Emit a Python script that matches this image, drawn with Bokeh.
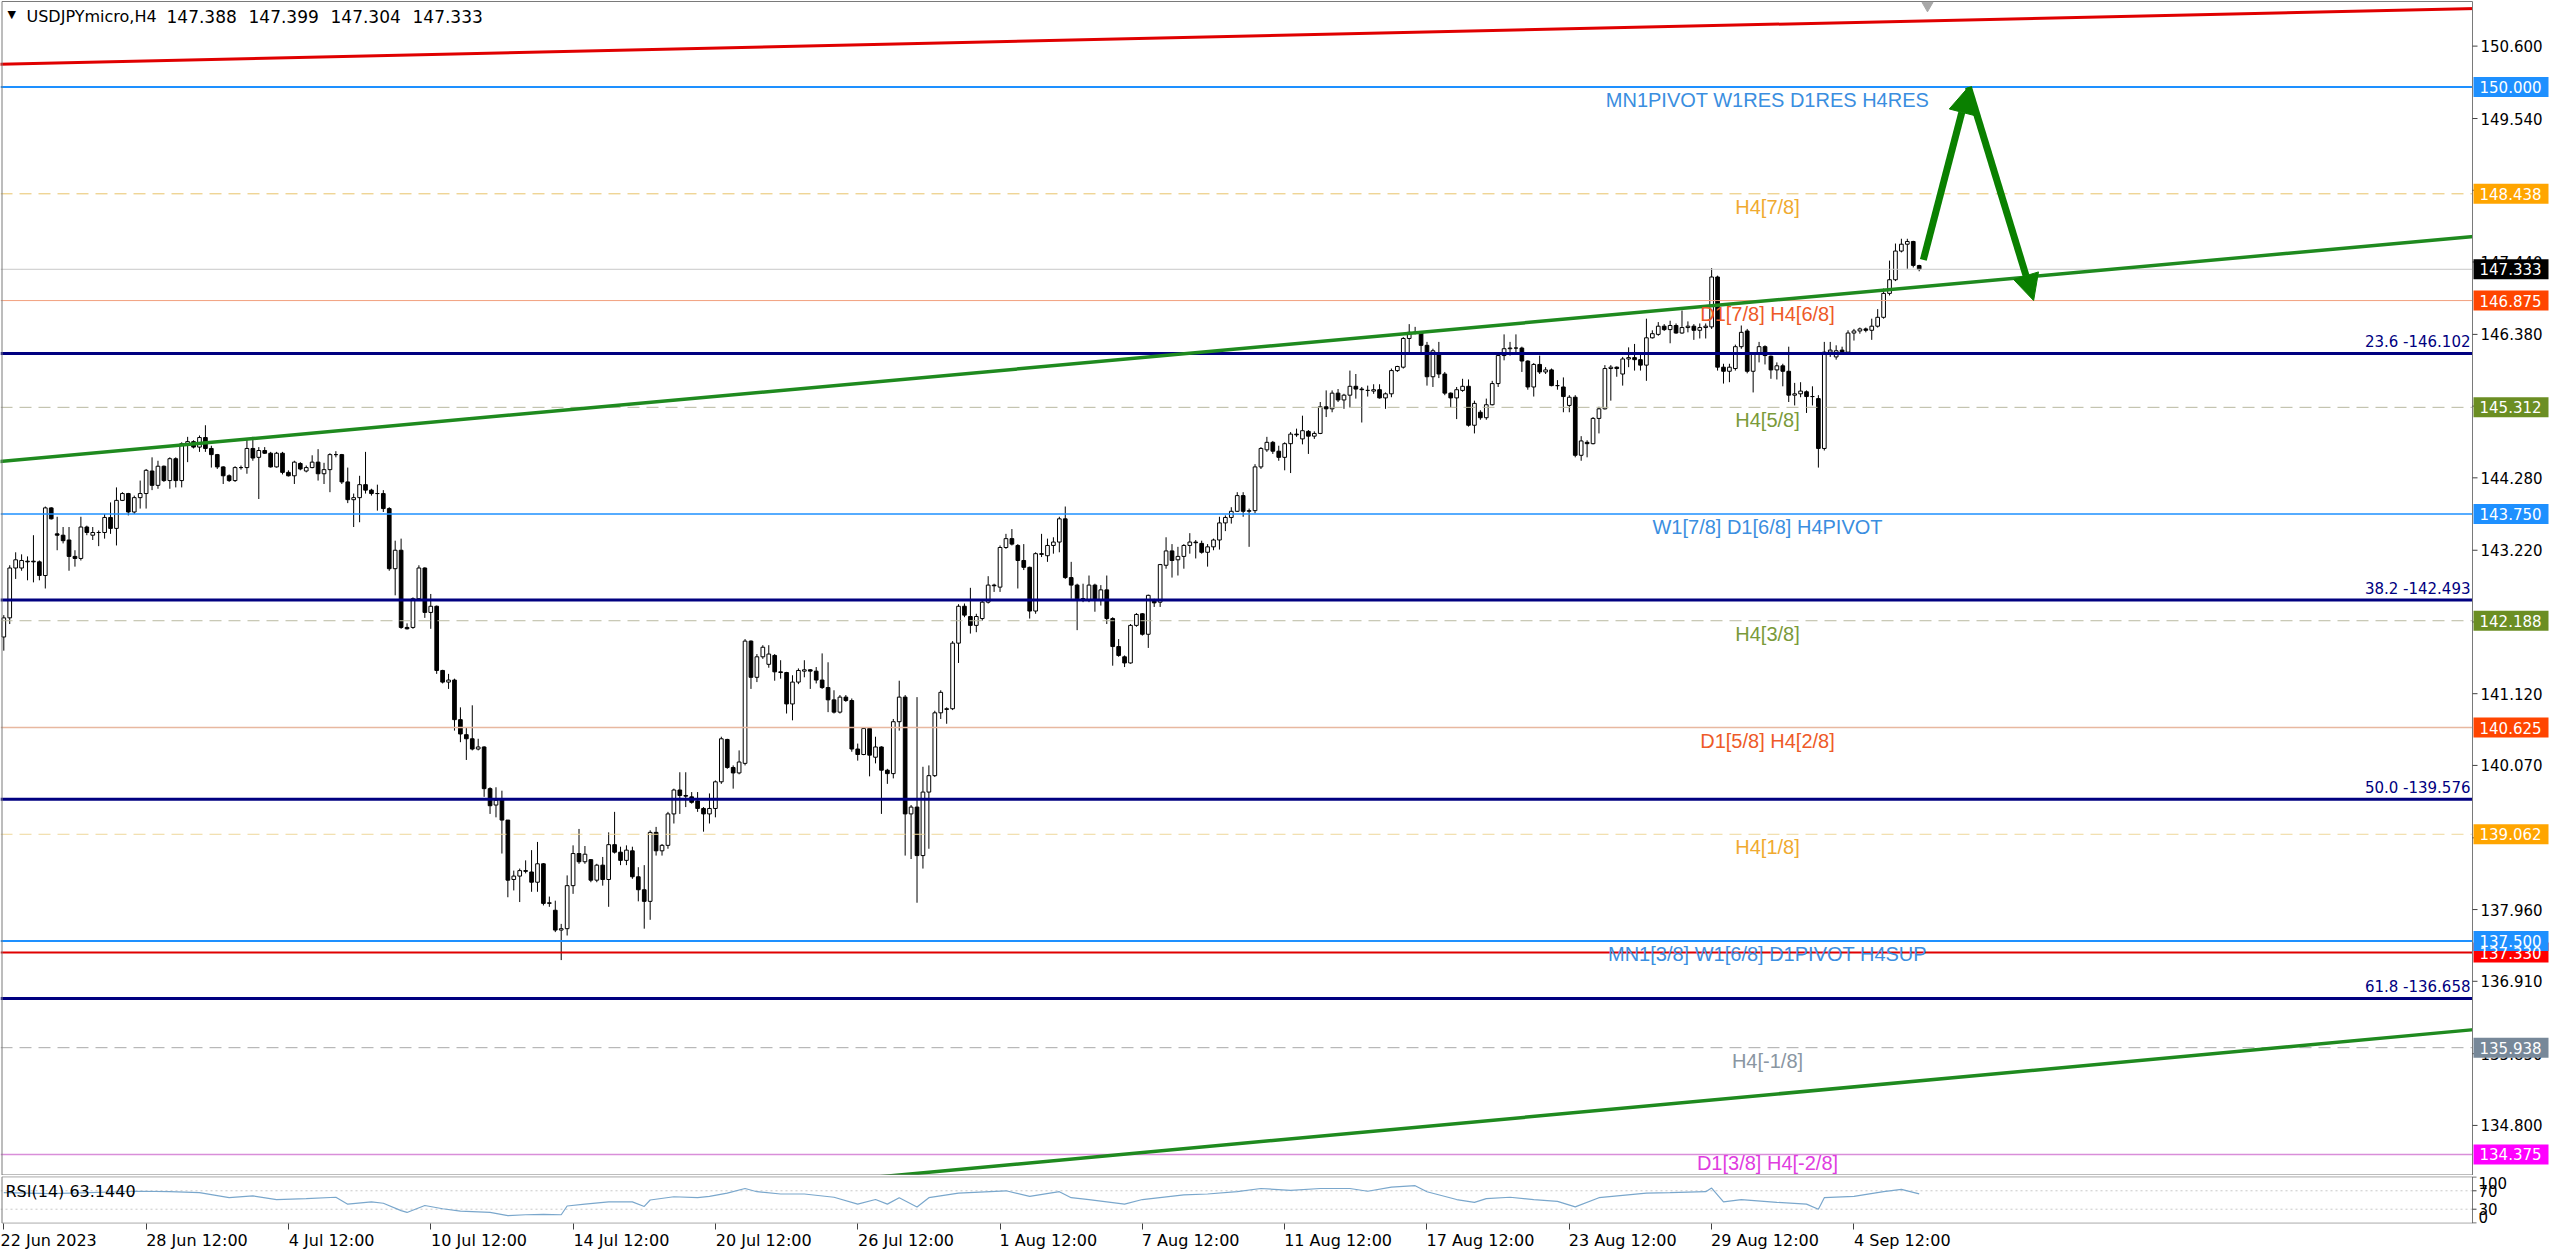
from bokeh.plotting import figure
from bokeh.models import (Range1d, FixedTicker, Label, Arrow, NormalHead)
from bokeh.core.properties import value
from bokeh.layouts import column
from bokeh.embed import file_html
from bokeh.resources import INLINE

# ---------------- data (USDJPYmicro, H4) ----------------
open_ = [
    141.95, 142.23, 142.96, 142.96, 143.06, 143.06, 143.05, 142.85, 143.84, 143.46,
    143.44, 143.37, 143.13, 143.10, 143.56, 143.44, 143.48, 143.48, 143.70, 143.54,
    143.95, 144.05, 143.78, 143.99, 144.05, 144.38, 144.17, 144.45, 144.24, 144.56,
    144.24, 144.78, 144.81, 144.73, 144.87, 144.71, 144.62, 144.44, 144.31, 144.24,
    144.43, 144.43, 144.71, 144.58, 144.68, 144.64, 144.44, 144.64, 144.36, 144.31,
    144.49, 144.38, 144.43, 144.51, 144.34, 144.40, 144.62, 144.62, 144.22, 143.96,
    143.99, 144.18, 144.10, 144.05, 144.05, 143.83, 142.95, 143.22, 142.09, 142.09,
    142.51, 142.96, 142.31, 142.40, 141.46, 141.29, 141.32, 140.74, 140.52, 140.46,
    140.31, 140.34, 139.73, 139.49, 139.57, 139.27, 138.40, 138.45, 138.53, 138.51,
    138.36, 138.63, 138.05, 137.95, 137.66, 137.68, 138.31, 138.78, 138.66, 138.69,
    138.39, 138.61, 138.40, 138.91, 138.80, 138.68, 138.82, 138.44, 138.25, 138.08,
    139.09, 138.82, 138.90, 139.36, 139.71, 139.63, 139.61, 139.55, 139.44, 139.36,
    139.44, 139.83, 140.45, 140.04, 139.96, 140.10, 141.89, 141.36, 141.66, 141.55,
    141.68, 141.44, 141.43, 140.97, 141.29, 141.45, 141.47, 141.45, 141.32, 141.21,
    141.03, 140.85, 141.07, 141.02, 140.31, 140.23, 140.61, 140.19, 140.34, 140.00,
    139.95, 140.71, 141.07, 139.36, 139.46, 138.75, 139.68, 139.92, 140.84, 140.89,
    140.90, 141.86, 142.40, 142.25, 142.12, 142.22, 142.46, 142.71, 142.68, 143.26,
    143.39, 143.29, 143.07, 142.97, 142.33, 143.17, 143.14, 143.29, 143.34, 143.68,
    142.82, 142.71, 142.51, 142.49, 142.71, 142.49, 142.64, 142.22, 141.81, 141.66,
    141.57, 142.12, 142.29, 141.99, 142.49, 142.46, 143.00, 143.21, 143.08, 143.13,
    143.29, 143.34, 143.32, 143.19, 143.27, 143.37, 143.62, 143.70, 143.79, 144.02,
    143.79, 143.80, 144.44, 144.69, 144.80, 144.67, 144.58, 144.78, 144.92, 144.85,
    144.96, 144.89, 144.93, 145.32, 145.29, 145.52, 145.42, 145.49, 145.62, 145.58,
    145.56, 145.55, 145.57, 145.45, 145.51, 145.85, 145.90, 146.32, 146.41, 146.40,
    146.22, 145.76, 146.10, 145.80, 145.52, 145.45, 145.56, 145.62, 145.05, 145.24,
    145.16, 145.35, 145.66, 146.07, 146.17, 146.18, 146.18, 145.99, 145.61, 145.94,
    145.83, 145.86, 145.63, 145.61, 145.34, 145.46, 144.61, 144.80, 144.78, 145.15,
    145.29, 145.88, 145.90, 145.80, 146.02, 146.04, 146.01, 145.93, 146.33, 146.38,
    146.50, 146.45, 146.51, 146.40, 146.48, 146.50, 146.44, 146.48, 146.49, 147.22,
    145.90, 145.84, 145.88, 146.20, 146.43, 145.84, 146.09, 146.20, 146.06, 145.86,
    145.92, 145.84, 145.49, 145.51, 145.54, 145.47, 145.44, 144.71, 146.12, 146.05,
    146.15, 146.12, 146.40, 146.43, 146.46, 146.44, 146.50, 146.63, 146.98, 147.18,
    147.60, 147.70, 147.74, 147.388,
]
high = [
    142.27, 143.00, 143.19, 143.16, 143.13, 143.44, 143.07, 143.86, 143.85, 143.71,
    143.56, 143.56, 143.22, 143.71, 143.58, 143.56, 143.51, 143.75, 143.92, 144.14,
    144.07, 144.06, 144.02, 144.24, 144.41, 144.58, 144.53, 144.46, 144.58, 144.58,
    144.80, 144.88, 144.83, 144.90, 145.05, 144.75, 144.63, 144.45, 144.33, 144.45,
    144.46, 144.85, 144.88, 144.73, 144.73, 144.66, 144.66, 144.66, 144.39, 144.53,
    144.51, 144.46, 144.61, 144.70, 144.50, 144.64, 144.67, 144.63, 144.43, 144.05,
    144.31, 144.66, 144.12, 144.18, 144.10, 143.85, 143.36, 143.39, 142.15, 142.53,
    143.00, 142.97, 142.58, 142.41, 141.47, 141.41, 141.34, 140.92, 140.62, 140.95,
    140.46, 140.35, 139.75, 139.75, 139.70, 139.27, 138.53, 138.56, 138.68, 138.83,
    138.95, 138.64, 138.15, 138.09, 137.75, 138.46, 138.90, 139.14, 138.89, 138.70,
    138.63, 138.73, 139.09, 139.39, 138.88, 138.90, 138.88, 138.58, 138.61, 139.12,
    139.17, 138.92, 139.39, 139.73, 139.97, 139.97, 139.68, 139.68, 139.46, 139.66,
    139.85, 140.49, 140.46, 140.07, 140.29, 141.92, 141.90, 141.70, 141.83, 141.83,
    141.70, 141.61, 141.44, 141.39, 141.49, 141.61, 141.48, 141.51, 141.71, 141.58,
    141.17, 141.10, 141.10, 141.05, 140.39, 140.63, 140.63, 140.49, 140.35, 140.02,
    140.75, 141.31, 141.10, 139.49, 141.07, 140.05, 140.07, 140.87, 141.17, 140.92,
    141.89, 142.43, 142.44, 142.67, 142.29, 142.49, 142.84, 142.73, 143.29, 143.46,
    143.53, 143.31, 143.31, 142.98, 143.19, 143.46, 143.39, 143.41, 143.71, 143.86,
    143.05, 142.73, 142.73, 142.85, 142.73, 142.71, 142.85, 142.24, 141.92, 141.68,
    142.14, 142.30, 142.30, 142.57, 142.51, 143.02, 143.41, 143.31, 143.27, 143.31,
    143.47, 143.37, 143.36, 143.31, 143.39, 143.71, 143.73, 143.85, 144.07, 144.07,
    143.83, 144.48, 144.73, 144.88, 144.82, 144.75, 144.80, 144.95, 145.00, 145.19,
    144.98, 144.96, 145.39, 145.56, 145.56, 145.58, 145.51, 145.85, 145.80, 145.61,
    145.63, 145.65, 145.65, 145.53, 145.88, 145.92, 146.34, 146.53, 146.49, 146.43,
    146.27, 146.17, 146.27, 145.83, 145.53, 145.61, 145.73, 145.72, 145.41, 145.27,
    145.44, 145.70, 146.10, 146.38, 146.27, 146.38, 146.20, 146.00, 145.96, 146.07,
    145.90, 145.88, 145.71, 145.75, 145.49, 145.49, 144.89, 144.83, 145.17, 145.32,
    145.93, 145.93, 145.91, 146.05, 146.19, 146.24, 146.12, 146.61, 146.44, 146.56,
    146.53, 146.58, 146.54, 146.73, 146.57, 146.53, 146.54, 146.54, 147.35, 147.24,
    145.95, 145.95, 146.23, 146.51, 146.46, 146.12, 146.27, 146.22, 146.07, 145.97,
    145.95, 146.20, 145.67, 145.68, 145.56, 145.62, 145.49, 146.27, 146.27, 146.22,
    146.20, 146.44, 146.46, 146.48, 146.48, 146.61, 146.75, 147.05, 147.46, 147.71,
    147.78, 147.78, 147.75, 147.399,
]
low = [
    141.75, 142.14, 142.80, 142.92, 142.78, 142.75, 142.78, 142.66, 143.67, 143.22,
    143.32, 142.92, 142.98, 143.07, 143.44, 143.37, 143.28, 143.39, 143.46, 143.29,
    143.94, 143.73, 143.75, 143.83, 143.83, 144.10, 144.12, 144.22, 144.12, 144.14,
    144.14, 144.51, 144.71, 144.66, 144.66, 144.43, 144.41, 144.19, 144.22, 144.22,
    144.40, 144.34, 144.53, 143.97, 144.63, 144.43, 144.43, 144.33, 144.30, 144.19,
    144.39, 144.36, 144.42, 144.24, 144.19, 144.07, 144.58, 144.19, 143.91, 143.56,
    143.63, 144.05, 144.02, 143.80, 143.78, 142.92, 142.56, 142.07, 142.06, 142.07,
    142.49, 142.23, 142.07, 141.41, 141.27, 141.19, 140.58, 140.41, 140.15, 140.29,
    140.29, 139.61, 139.36, 139.31, 138.78, 138.14, 138.24, 138.07, 138.49, 138.22,
    138.22, 138.02, 138.00, 137.63, 137.22, 137.58, 138.19, 138.63, 138.63, 138.36,
    138.36, 138.31, 138.00, 138.78, 138.61, 138.61, 138.41, 138.08, 137.68, 137.81,
    138.75, 138.75, 138.85, 139.22, 139.36, 139.46, 139.51, 139.39, 139.10, 139.22,
    139.31, 139.80, 140.02, 139.73, 139.94, 140.07, 141.19, 141.29, 141.63, 141.50,
    141.31, 141.34, 140.83, 140.73, 141.26, 141.36, 141.19, 141.27, 141.19, 140.85,
    140.83, 140.83, 141.00, 140.27, 140.14, 140.22, 139.91, 140.10, 139.36, 139.80,
    139.88, 140.58, 138.75, 138.70, 138.06, 138.56, 138.85, 139.90, 140.75, 140.68,
    140.88, 141.57, 142.24, 142.00, 142.02, 142.19, 142.44, 142.61, 142.61, 143.24,
    143.29, 142.66, 142.93, 142.22, 142.29, 143.12, 143.05, 143.17, 143.19, 142.80,
    142.51, 142.05, 142.46, 142.46, 142.32, 142.41, 142.14, 141.53, 141.66, 141.51,
    141.56, 142.10, 141.97, 141.79, 142.39, 142.39, 142.95, 142.82, 142.85, 142.95,
    143.17, 143.10, 143.17, 142.98, 143.22, 143.23, 143.50, 143.61, 143.78, 143.71,
    143.27, 143.76, 144.41, 144.66, 144.63, 144.53, 144.39, 144.35, 144.88, 144.77,
    144.63, 144.85, 144.92, 145.17, 145.24, 145.39, 145.29, 145.31, 145.44, 145.09,
    145.47, 145.51, 145.44, 145.29, 145.46, 145.83, 145.88, 146.12, 146.38, 146.12,
    145.63, 145.61, 145.74, 145.49, 145.31, 145.14, 145.54, 145.03, 144.93, 145.13,
    145.13, 145.34, 145.61, 146.00, 146.07, 146.10, 145.83, 145.57, 145.47, 145.80,
    145.80, 145.62, 145.57, 145.24, 145.24, 144.58, 144.53, 144.58, 144.77, 144.93,
    145.28, 145.41, 145.76, 145.63, 145.90, 145.85, 145.85, 145.70, 146.32, 146.36,
    146.43, 146.25, 146.39, 146.39, 146.41, 146.30, 146.32, 146.32, 146.46, 145.85,
    145.66, 145.68, 145.85, 146.17, 145.81, 145.53, 145.97, 145.94, 145.73, 145.72,
    145.62, 145.39, 145.34, 145.46, 145.23, 145.34, 144.43, 144.68, 146.05, 146.01,
    146.10, 146.10, 146.29, 146.39, 146.41, 146.30, 146.48, 146.61, 146.95, 147.16,
    147.58, 147.34, 147.36, 147.304,
]
close = [
    142.23, 142.96, 143.08, 143.07, 143.05, 143.05, 142.85, 143.84, 143.68, 143.44,
    143.36, 143.13, 143.10, 143.56, 143.48, 143.48, 143.48, 143.70, 143.54, 143.95,
    144.05, 143.78, 143.99, 144.05, 144.39, 144.17, 144.45, 144.24, 144.56, 144.24,
    144.78, 144.81, 144.73, 144.87, 144.71, 144.62, 144.44, 144.31, 144.24, 144.43,
    144.43, 144.71, 144.57, 144.68, 144.64, 144.44, 144.64, 144.36, 144.31, 144.51,
    144.41, 144.43, 144.51, 144.34, 144.40, 144.62, 144.62, 144.22, 143.96, 143.99,
    144.18, 144.10, 144.05, 144.05, 143.83, 142.95, 143.22, 142.09, 142.07, 142.51,
    142.96, 142.31, 142.40, 141.46, 141.29, 141.32, 140.74, 140.53, 140.46, 140.31,
    140.34, 139.73, 139.48, 139.56, 139.27, 138.39, 138.45, 138.53, 138.52, 138.36,
    138.63, 138.05, 138.06, 137.66, 137.68, 138.31, 138.78, 138.66, 138.77, 138.39,
    138.61, 138.40, 138.91, 138.80, 138.68, 138.83, 138.44, 138.25, 138.08, 139.09,
    138.82, 138.90, 139.36, 139.71, 139.63, 139.62, 139.53, 139.44, 139.36, 139.44,
    139.83, 140.46, 140.04, 139.96, 140.12, 141.89, 141.36, 141.66, 141.80, 141.70,
    141.44, 141.43, 140.97, 141.29, 141.46, 141.47, 141.45, 141.32, 141.21, 141.03,
    140.85, 141.07, 141.02, 140.31, 140.23, 140.61, 140.22, 140.34, 140.00, 139.95,
    140.71, 141.07, 139.36, 139.46, 138.75, 139.68, 139.92, 140.84, 141.14, 140.90,
    141.86, 142.40, 142.27, 142.12, 142.25, 142.46, 142.71, 142.70, 143.26, 143.39,
    143.31, 143.07, 142.97, 142.33, 143.17, 143.16, 143.29, 143.34, 143.68, 142.82,
    142.71, 142.51, 142.51, 142.71, 142.49, 142.64, 142.22, 141.81, 141.68, 141.57,
    142.12, 142.28, 141.99, 142.56, 142.45, 143.01, 143.21, 143.07, 143.13, 143.29,
    143.34, 143.33, 143.19, 143.27, 143.37, 143.62, 143.70, 143.79, 144.02, 143.79,
    143.80, 144.44, 144.71, 144.80, 144.67, 144.58, 144.78, 144.92, 144.91, 144.97,
    144.89, 144.93, 145.32, 145.29, 145.52, 145.42, 145.49, 145.62, 145.58, 145.57,
    145.56, 145.57, 145.45, 145.51, 145.85, 145.91, 146.32, 146.41, 146.41, 146.22,
    145.76, 146.14, 145.80, 145.52, 145.45, 145.57, 145.62, 145.05, 145.37, 145.16,
    145.35, 145.66, 146.07, 146.17, 146.18, 146.18, 145.99, 145.61, 145.94, 145.83,
    145.86, 145.63, 145.63, 145.47, 145.46, 144.61, 144.82, 144.78, 145.15, 145.29,
    145.88, 145.90, 145.88, 146.02, 146.04, 146.01, 145.93, 146.33, 146.39, 146.50,
    146.45, 146.51, 146.40, 146.48, 146.50, 146.44, 146.48, 146.50, 147.22, 145.90,
    145.84, 145.90, 146.20, 146.41, 145.84, 146.09, 146.20, 146.07, 145.86, 145.92,
    145.84, 145.49, 145.51, 145.55, 145.47, 145.47, 144.71, 146.12, 146.15, 146.14,
    146.12, 146.40, 146.43, 146.46, 146.44, 146.50, 146.63, 146.98, 147.18, 147.60,
    147.70, 147.74, 147.39, 147.333,
]

# RSI(14) (bar index, value)
rsi_bar = [0, 8, 23, 28, 33, 38, 42, 46, 51, 56, 58, 62, 64, 67, 68, 71, 74, 77, 82, 85,
           88, 91, 94, 95, 98, 102, 106, 108, 109, 113, 117, 119, 122, 125, 127, 131, 135,
           140, 144, 147, 149, 151, 154, 156, 161, 169, 173, 178, 180, 183, 189, 192, 199,
           203, 208, 212, 217, 222, 227, 230, 234, 238, 240, 245, 248, 250, 254, 258, 262,
           265, 269, 277, 281, 287, 288, 290, 293, 299, 304, 306, 307, 312, 317, 320, 323]
rsi_val = [66, 64, 69, 68, 66, 55, 59, 51, 53, 56, 41, 46, 43, 27, 23, 38, 31, 26, 23, 16,
           18, 19, 18, 37, 41, 46, 46, 36, 50, 57, 55, 58, 65, 75, 68, 63, 63,
           56, 41, 51, 41, 55, 35, 55, 65, 70, 58, 68, 55, 51, 41, 51, 61,
           63, 68, 75, 71, 75, 75, 69, 78, 81, 68, 51, 45, 53, 56, 51, 47,
           35, 55, 65, 66, 68, 76, 46, 51, 45, 41, 30, 55, 58, 68, 73, 63.144]
rsi_ticks = [100, 70, 30, 0]
rsi_levels = [70, 30]

# Time axis labels
date_tick_bar = [0, 24, 48, 72, 96, 120, 144, 168, 192, 216, 240, 264, 288, 312]
date_tick_label = ["22 Jun 2023", "28 Jun 12:00", "4 Jul 12:00", "10 Jul 12:00",
                   "14 Jul 12:00", "20 Jul 12:00", "26 Jul 12:00", "1 Aug 12:00",
                   "7 Aug 12:00", "11 Aug 12:00", "17 Aug 12:00", "23 Aug 12:00",
                   "29 Aug 12:00", "4 Sep 12:00"]
price_ticks = [150.6, 149.54, 148.49, 147.44, 146.38, 145.33, 144.28, 143.22, 142.17,
               141.12, 140.07, 139.01, 137.96, 136.91, 135.85, 134.8]

# Murrey / pivot levels
level_price = [150.000, 148.438, 146.875, 145.312, 143.750, 142.188, 140.625, 139.062,
               137.500, 135.938, 134.375]
level_name = ["MN1PIVOT W1RES D1RES H4RES", "H4[7/8]", "D1[7/8] H4[6/8]", "H4[5/8]",
              "W1[7/8] D1[6/8] H4PIVOT", "H4[3/8]", "D1[5/8] H4[2/8]", "H4[1/8]",
              "MN1[3/8] W1[6/8] D1PIVOT H4SUP", "H4[-1/8]", "D1[3/8] H4[-2/8]"]
fibo_price = [146.102, 142.493, 139.576, 136.658]
fibo_name = ["23.6", "38.2", "50.0", "61.8"]
red_level = 137.330
last_price = 147.333
symbol_text = "USDJPYmicro,H4"
ohlc_text = ["147.388", "147.399", "147.304", "147.333"]
rsi_text = "RSI(14) 63.1440"

# Trend lines (bar, price) and forecast arrow
red_trend_bar = [-1, 417]
red_trend_price = [150.335, 151.152]
upper_trend_bar = [-1, 417]
upper_trend_price = [144.516, 147.818]
lower_trend_bar = [140, 417]
lower_trend_price = [133.986, 136.206]
arrow_bar = [323.7, 331.3, 342.3]
arrow_price = [147.47, 150.0, 146.875]
shift_marker_bar = 324.4

# ---------------- styles / layout ----------------
BLUE = "#1E90FF"
ORANGE = "#FFA500"
ORANGERED = "#FF4500"
OLIVE = "#6B8E23"
SLATE = "#778899"
MAGENTA = "#FF00FF"
NAVY = "#000080"
GREEN = "#1F8A1F"
ARROW_GREEN = "#0A8000"
BORDER = "#7A7A7A"
FONT = "DejaVu Sans"

line_style = {
    150.000: dict(color=BLUE, width=2, dash="solid"),
    148.438: dict(color="#E8C46A", width=1, dash="12 7"),
    146.875: dict(color="#F2A07E", width=1, dash="solid"),
    145.312: dict(color="#B9B9A0", width=1, dash="12 7"),
    143.750: dict(color=BLUE, width=1.5, dash="solid"),
    142.188: dict(color="#B9B9A0", width=1, dash="12 7"),
    140.625: dict(color="#E8B8A0", width=1.5, dash="solid"),
    139.062: dict(color="#EED79A", width=1, dash="12 7"),
    137.500: dict(color=BLUE, width=2, dash="solid"),
    135.938: dict(color="#AAAAAA", width=1, dash="12 7"),
    134.375: dict(color="#D98ED9", width=1.5, dash="solid"),
}
text_color = {
    150.000: "#3A8EE0", 148.438: "#F0AA30", 146.875: "#EE5A28", 145.312: "#7A9A3A",
    143.750: "#3A8EE0", 142.188: "#7A9A3A", 140.625: "#EE5A28", 139.062: "#F0AA30",
    137.500: "#3A8EE0", 135.938: "#8A96A2", 134.375: "#E03CE0",
}
tag_color = {
    150.000: BLUE, 148.438: ORANGE, 146.875: ORANGERED, 145.312: OLIVE,
    143.750: BLUE, 142.188: OLIVE, 140.625: ORANGERED, 139.062: ORANGE,
    137.500: BLUE, 135.938: SLATE, 134.375: MAGENTA,
}

PXB = 5.93          # pixels per bar
PXP = 68.31         # pixels per price unit
X0 = -0.556         # left edge of the canvas (bars)
XR = X0 + 2560 / PXB
EDGE = X0 + 2472 / PXB   # right border of the chart area
Y_TOP = 151.2678
MAIN_H = 1175
Y_BOT = Y_TOP - MAIN_H / PXP


def bx(px):
    return X0 + px / PXB


p = figure(width=2560, height=MAIN_H, x_range=Range1d(X0, XR), y_range=Range1d(Y_BOT, Y_TOP),
           x_axis_location=None, y_axis_location=None, toolbar_location=None,
           output_backend="svg", min_border=0)
p.background_fill_color = "white"
p.border_fill_color = "white"
p.outline_line_color = None
p.grid.grid_line_color = None

# candles
idx = list(range(len(close)))
up = [i for i in idx if close[i] >= open_[i]]
dn = [i for i in idx if close[i] < open_[i]]
p.segment(x0=idx, y0=low, x1=idx, y1=high, line_color="black", line_width=1)
p.vbar(x=up, width=0.62, top=[close[i] for i in up], bottom=[open_[i] for i in up],
       fill_color="white", line_color="black", line_width=1)
p.vbar(x=dn, width=0.62, top=[open_[i] for i in dn], bottom=[close[i] for i in dn],
       fill_color="black", line_color="black", line_width=1)

# horizontal levels
p.segment(x0=[X0], x1=[EDGE], y0=[last_price], y1=[last_price], line_color="#C8C8C8",
          line_width=1)
for lv in level_price:
    st = line_style[lv]
    p.segment(x0=[X0], x1=[EDGE], y0=[lv], y1=[lv], line_color=st["color"],
              line_width=st["width"], line_dash=st["dash"])
p.segment(x0=[X0], x1=[EDGE], y0=[red_level], y1=[red_level], line_color="#E00000",
          line_width=2)
for fp in fibo_price:
    p.segment(x0=[X0], x1=[EDGE], y0=[fp], y1=[fp], line_color=NAVY, line_width=3)

# trend lines
p.line(red_trend_bar, red_trend_price, line_color="#E00000", line_width=3)
p.line(upper_trend_bar, upper_trend_price, line_color=GREEN, line_width=3.5)
p.line(lower_trend_bar, lower_trend_price, line_color=GREEN, line_width=3.5)

# price-scale column (right of the chart border)
p.quad(left=[EDGE], right=[XR + 1], top=[Y_TOP + 1], bottom=[Y_BOT - 1], fill_color="white",
       line_color=None)
p.quad(left=[bx(1.5)], right=[EDGE], top=[Y_TOP - 1 / PXP], bottom=[Y_BOT + 0.5 / PXP],
       fill_color=None, line_color=BORDER, line_width=1)
p.segment(x0=[EDGE] * len(price_ticks), x1=[EDGE + 5 / PXB] * len(price_ticks),
          y0=price_ticks, y1=price_ticks, line_color="#404040", line_width=1)
p.text(x=[bx(2480)] * len(price_ticks), y=price_ticks,
       text=[f"{t:.3f}" for t in price_ticks], text_font=value(FONT),
       text_font_size=value("15px"), text_color="black", text_align="left",
       text_baseline="middle")

tag_list = [(red_level, "#FF0000")] + [(lv, tag_color[lv]) for lv in level_price] + \
           [(last_price, "black")]
tag_half = 10 / PXP
p.quad(left=[bx(2473)] * len(tag_list), right=[bx(2548)] * len(tag_list),
       top=[lv + tag_half for lv, _ in tag_list], bottom=[lv - tag_half for lv, _ in tag_list],
       fill_color=[c for _, c in tag_list], line_color=None)
p.text(x=[bx(2479)] * len(tag_list), y=[lv for lv, _ in tag_list],
       text=[f"{lv:.3f}" for lv, _ in tag_list], text_font=value(FONT),
       text_font_size=value("15px"), text_color="white", text_align="left",
       text_baseline="middle")

# chart-shift marker
p.scatter(x=[shift_marker_bar], y=[Y_TOP - 5 / PXP], marker="inverted_triangle", size=11,
          fill_color="#A8A8A8", line_color="#A8A8A8")

# forecast arrow
for k in range(2):
    p.add_layout(Arrow(end=NormalHead(size=26, fill_color=ARROW_GREEN, line_color=ARROW_GREEN),
                       x_start=arrow_bar[k], y_start=arrow_price[k],
                       x_end=arrow_bar[k + 1], y_end=arrow_price[k + 1],
                       line_color=ARROW_GREEN, line_width=7))

# level labels
LABEL_X = bx(1767)
for lv, name in zip(level_price, level_name):
    if lv == min(level_price):
        # lowest label sits on the bottom edge of the chart
        p.add_layout(Label(x=LABEL_X, y=Y_BOT + 1.5 / PXP, text=name, text_align="center",
                           text_baseline="bottom", text_font="Liberation Sans",
                           text_font_size="20px", text_color=text_color[lv]))
    else:
        p.add_layout(Label(x=LABEL_X, y=lv - 2 / PXP, text=name, text_align="center",
                           text_baseline="top", text_font="Liberation Sans",
                           text_font_size="20px", text_color=text_color[lv]))
for fp, nm in zip(fibo_price, fibo_name):
    p.add_layout(Label(x=bx(2470), y=fp + 2 / PXP, text=f"{nm} -{fp:.3f}",
                       text_align="right", text_baseline="bottom", text_font=FONT,
                       text_font_size="15px", text_color=NAVY))

# header
p.add_layout(Label(x=bx(7), y=Y_TOP - 14 / PXP, text="\u25bc", text_align="left",
                   text_baseline="middle", text_font=FONT, text_font_size="11px",
                   text_color="black"))
p.add_layout(Label(x=bx(26), y=Y_TOP - 16 / PXP, text=symbol_text, text_align="left",
                   text_baseline="middle", text_font=FONT, text_font_size="16px",
                   text_color="black"))
for px, t in zip([166, 248, 330, 412], ohlc_text):
    p.add_layout(Label(x=bx(px), y=Y_TOP - 16 / PXP, text=t, text_align="left",
                       text_baseline="middle", text_font=FONT, text_font_size="17px",
                       text_color="black"))

# ---------------- RSI panel ----------------
RSI_LO, RSI_HI = -1.0, 101.0
r = figure(width=2560, height=77, x_range=Range1d(X0, XR), y_range=Range1d(RSI_LO, RSI_HI),
           y_axis_location=None, toolbar_location=None, output_backend="svg",
           min_border_left=0, min_border_right=0, min_border_top=1, min_border_bottom=0)
r.background_fill_color = "white"
r.border_fill_color = "white"
r.outline_line_color = None
r.grid.grid_line_color = None
for lvl in rsi_levels:
    r.segment(x0=[X0], x1=[EDGE], y0=[lvl], y1=[lvl], line_color="#C8C8C8", line_width=1,
              line_dash="2 3")
r.line(rsi_bar, rsi_val, line_color="#7AA7CC", line_width=1.2)
r.quad(left=[bx(1.5)], right=[EDGE], top=[RSI_HI - 0.6], bottom=[RSI_LO + 0.6],
       fill_color=None, line_color=BORDER, line_width=1)
r.segment(x0=[EDGE] * len(rsi_ticks), x1=[EDGE + 4 / PXB] * len(rsi_ticks),
          y0=rsi_ticks, y1=rsi_ticks, line_color="#404040", line_width=1)
# scale labels kept inside the panel height (top one hangs down, bottom one sits up)
rsi_label_baseline = {100: "top", 70: "middle", 30: "middle", 0: "bottom"}
for t in rsi_ticks:
    r.text(x=[bx(2478)], y=[t], text=[str(t)], text_font=value(FONT),
           text_font_size=value("15px"), text_color="black", text_align="left",
           text_baseline=rsi_label_baseline[t])
r.add_layout(Label(x=bx(5), y=68, text=rsi_text, text_align="left", text_baseline="middle",
                   text_font=FONT, text_font_size="16px", text_color="black"))

# labels start at their tick (MT4 style): pad the left with no-break spaces
EM = {" ": .318, ":": .337, "J": .295, "u": .634, "n": .634, "l": .278, "A": .684,
      "g": .635, "S": .635, "e": .615, "p": .635}


def left_aligned(s, first):
    if first:
        return s
    w = sum(EM.get(c, .636) for c in s)
    return "\u00a0" * int(round(w / .318)) + s


rx = r.xaxis[0]
rx.ticker = FixedTicker(ticks=date_tick_bar)
rx.major_label_overrides = {b: left_aligned(s, k == 0)
                            for k, (b, s) in enumerate(zip(date_tick_bar, date_tick_label))}
rx.major_label_text_font = FONT
rx.major_label_text_font_size = "16px"
rx.major_label_text_color = "black"
rx.major_tick_out = 6
rx.major_tick_in = 0
rx.major_label_standoff = 1
rx.axis_line_color = None
rx.major_tick_line_color = "#404040"

layout = column(p, r)
open("out.html", "w").write(file_html(layout, INLINE))
